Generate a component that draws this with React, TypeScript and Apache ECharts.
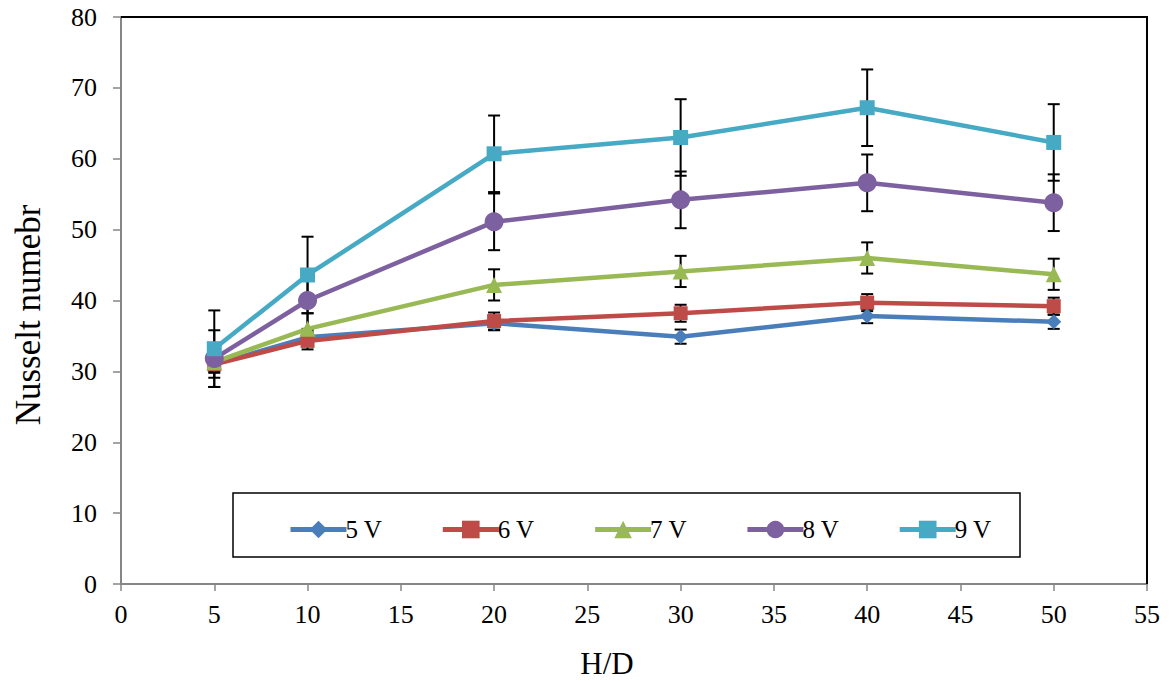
import React, { useEffect, useRef } from "react";
import * as echarts from "echarts";

const xValues = [5, 10, 20, 30, 40, 50];
const seriesNames = ["5 V", "6 V", "7 V", "8 V", "9 V"];
const v5 = [31.0, 34.8, 36.8, 34.9, 37.8, 37.0];
const v6 = [31.0, 34.3, 37.1, 38.2, 39.7, 39.2];
const v7 = [31.3, 36.0, 42.2, 44.1, 46.0, 43.7];
const v8 = [31.8, 40.0, 51.1, 54.2, 56.6, 53.8];
const v9 = [33.2, 43.6, 60.7, 63.0, 67.2, 62.3];
const err5 = [1.0, 1.0, 1.0, 1.0, 1.0, 1.0];
const err6 = [1.2, 1.2, 1.2, 1.2, 1.2, 1.2];
const err7 = [2.2, 2.2, 2.2, 2.2, 2.2, 2.2];
const err8 = [4.0, 4.0, 4.0, 4.0, 4.0, 4.0];
const err9 = [5.4, 5.4, 5.4, 5.4, 5.4, 5.4];
const colors = ["#4a7ebb", "#be4b48", "#98b954", "#7d60a0", "#46aac5"];
const symbols = ["diamond", "rect", "triangle", "circle", "rect"];
const symbolSizes = [15, 14, 16, 19, 15];
const xTitle = "H/D";
const yTitle = "Nusselt numebr";

const allValues = [v5, v6, v7, v8, v9];
const allErrors = [err5, err6, err7, err8, err9];

const FONT = "'Liberation Serif', 'Times New Roman', serif";

export default function App() {
  const ref = useRef<HTMLDivElement>(null);
  useEffect(() => {
    if (!ref.current) return;
    const chart = echarts.init(ref.current, null, { renderer: "svg" });
    const lineSeries: any[] = allValues.map((vals, i) => ({
      name: seriesNames[i],
      type: "line",
      data: vals.map((v, j) => [xValues[j], v]),
      symbol: symbols[i],
      symbolSize: symbolSizes[i],
      lineStyle: { color: colors[i], width: 4.5 },
      itemStyle: { color: colors[i] },
      z: 3,
    }));
    const errSeries: any[] = allValues.map((vals, i) => ({
      name: "err" + i,
      type: "custom",
      z: 2,
      data: vals.map((v, j) => [xValues[j], v - allErrors[i][j], v + allErrors[i][j]]),
      renderItem: (params: any, api: any) => {
        const x = api.value(0);
        const lo = api.coord([x, api.value(1)]);
        const hi = api.coord([x, api.value(2)]);
        const hw = 6;
        const style = { stroke: "#000", lineWidth: 2 };
        return {
          type: "group",
          children: [
            { type: "line", shape: { x1: lo[0], y1: lo[1], x2: hi[0], y2: hi[1] }, style },
            { type: "line", shape: { x1: lo[0] - hw, y1: lo[1], x2: lo[0] + hw, y2: lo[1] }, style },
            { type: "line", shape: { x1: hi[0] - hw, y1: hi[1], x2: hi[0] + hw, y2: hi[1] }, style },
          ],
        };
      },
    }));
    chart.setOption({
      animation: false,
      textStyle: { fontFamily: FONT },
      grid: { left: 121, top: 17, right: 25, bottom: 97, containLabel: false },
      xAxis: {
        type: "value",
        min: 0,
        max: 55,
        interval: 5,
        axisLine: { show: true, onZero: false, lineStyle: { color: "#868686", width: 2 } },
        axisTick: { show: true, inside: false, length: 7, lineStyle: { color: "#868686", width: 1.5 } },
        axisLabel: { fontFamily: FONT, fontSize: 26, color: "#000", margin: 17 },
        splitLine: { show: false },
      },
      yAxis: {
        type: "value",
        min: 0,
        max: 80,
        interval: 10,
        axisLine: { show: true, lineStyle: { color: "#868686", width: 2 } },
        axisTick: { show: true, inside: false, length: 8, lineStyle: { color: "#868686", width: 1.5 } },
        axisLabel: { fontFamily: FONT, fontSize: 26, color: "#000", margin: 24 },
        splitLine: { show: false },
      },
      legend: {
        data: seriesNames,
        left: 283,
        top: 512,
        itemWidth: 56,
        itemHeight: 22,
        itemGap: 58,
        lineStyle: { width: 5 },
        textStyle: { fontFamily: FONT, fontSize: 25, color: "#000", padding: [0, 0, 0, -6] },
      },
      graphic: [
        {
          type: "rect",
          shape: { x: 233, y: 493, width: 787, height: 64 },
          style: { fill: "none", stroke: "#000", lineWidth: 1.5 },
          z: 1,
        },
        {
          type: "polyline",
          shape: { points: [[121, 17], [1147, 17], [1147, 584]] },
          style: { fill: "none", stroke: "#000", lineWidth: 2 },
          z: 1,
        },
        {
          type: "text",
          x: 607,
          y: 663,
          style: {
            text: xTitle,
            fontFamily: FONT,
            fontSize: 31,
            fill: "#000",
            align: "center",
            verticalAlign: "middle",
          },
        },
        {
          type: "text",
          x: 28,
          y: 315,
          rotation: Math.PI / 2,
          style: {
            text: yTitle,
            fontFamily: FONT,
            fontSize: 35,
            fill: "#000",
            align: "center",
            verticalAlign: "middle",
          },
        },
      ],
      series: [...errSeries, ...lineSeries],
    });
    return () => chart.dispose();
  }, []);
  return <div ref={ref} style={{ width: 1172, height: 681, position: "absolute", left: 0, top: 0, background: "#fff" }} />;
}
